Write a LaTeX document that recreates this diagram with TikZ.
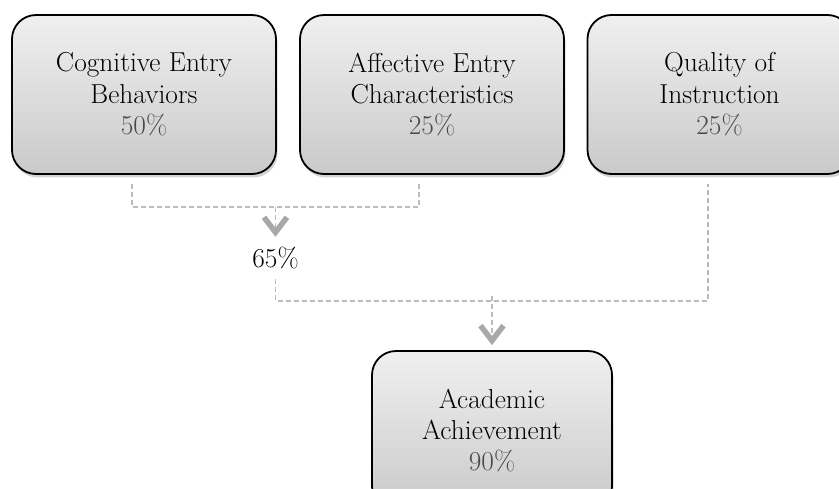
\documentclass[tikz,border=0pt]{standalone}
\usetikzlibrary{arrows.meta,shadows}
\definecolor{pctgray}{HTML}{4A4A4A}
\definecolor{linegray}{HTML}{BBBBBB}
\definecolor{tipgray}{HTML}{A8A8A8}
\begin{document}
\begin{tikzpicture}[x=1bp,y=-1bp,
  box/.style={draw=black, line width=1.8bp, rounded corners=24bp,
    minimum width=264bp, minimum height=159bp, align=center,
    top color=white!94!black, bottom color=white!79!black,
    drop shadow={opacity=0.35, shadow xshift=1.5bp, shadow yshift=-3.5bp},
    font=\fontsize{27.5}{31.5}\selectfont, inner sep=0pt},
  dashline/.style={draw=linegray, line width=1.1bp, dash pattern=on 5bp off 3bp},
  flow/.style={draw=linegray, line width=1.1bp, dash pattern=on 5bp off 3bp,
    -{Straight Barb[length=15bp, width=23bp, line width=5.5bp, color=tipgray]}},
  lbl/.style={font=\fontsize{27.5}{31.5}\selectfont, inner sep=2bp}]
\useasboundingbox (0,0) rectangle (839,489);
\node[box] (cog) at (144,94.5) {Cognitive Entry\\Behaviors\\\textcolor{pctgray}{50\%}};
\node[box] (aff) at (432,94.5) {Affective Entry\\Characteristics\\\textcolor{pctgray}{25\%}};
\node[box] (qual) at (719.5,94.5) {Quality of\\Instruction\\\textcolor{pctgray}{25\%}};
\node[box, minimum width=240bp] (ach) at (492,430.5) {Academic\\Achievement\\\textcolor{pctgray}{90\%}};
\node[lbl] (p65) at (275.5,258) {65\%};
\coordinate (j1) at (275.5,207);
\coordinate (j2) at (492,301);
\draw[dashline] ([xshift=-12bp,yshift=-9bp]cog.south) |- (j1) -| ([xshift=-13bp,yshift=-9bp]aff.south);
\draw[dashline] ([yshift=-8bp]p65.south) |- (j2) -| ([xshift=-11.5bp,yshift=-9bp]qual.south);
\draw[flow, shorten >=8bp] (j1) -- (p65.north);
\draw[flow, shorten >=5bp] ([yshift=5bp]j2) -- (ach.north);
\end{tikzpicture}
\end{document}
